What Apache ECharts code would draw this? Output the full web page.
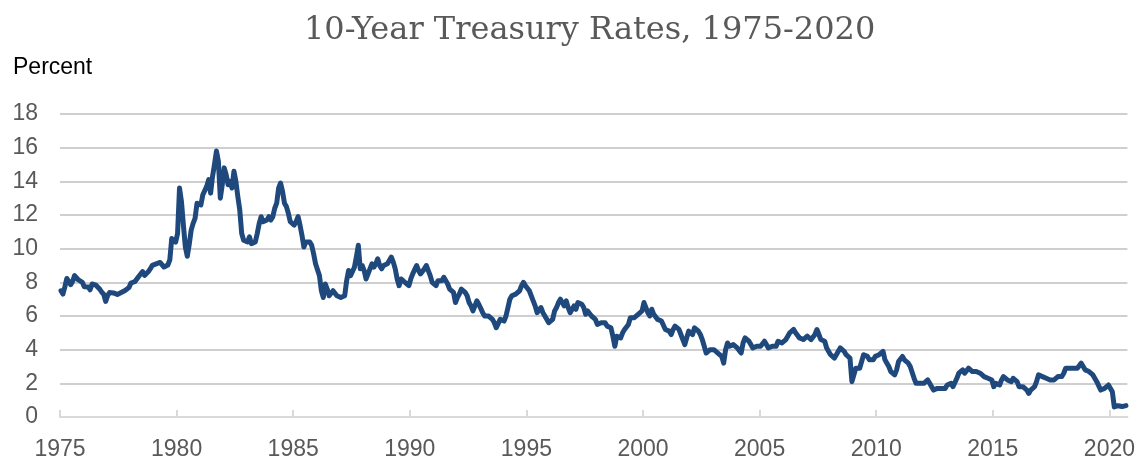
<!DOCTYPE html>
<html>
<head>
<meta charset="utf-8">
<script src="https://cdn.jsdelivr.net/npm/echarts@6/dist/echarts.min.js"></script>
<style>html,body{margin:0;padding:0;background:#fff}#c{width:1138px;height:461px}</style>
</head>
<body>
<div id="c"></div>
<script>
// Monthly 10-year Treasury rates (percent)
const rates1975 = [
  7.50, 7.30, 7.73, 8.23, 8.06, 7.86, 8.06, 8.40, 8.50, 8.14, 8.05, 8.00,
  7.74, 7.79, 7.73, 7.56, 7.90, 7.86, 7.83, 7.77, 7.59, 7.41, 7.29, 6.87,
  7.21, 7.39, 7.46, 7.37, 7.46, 7.28, 7.33, 7.40, 7.34, 7.52, 7.58, 7.69,
  7.96, 8.03, 8.04, 8.15, 8.35, 8.46, 8.64, 8.41, 8.42, 8.64, 8.81, 9.01,
  9.10, 9.10, 9.12, 9.18, 9.25, 8.91, 8.95, 9.03, 9.33, 10.60, 10.65, 10.39
];
const rates1980 = [
  10.9, 13.6, 12.8, 11.4, 10.1, 9.55, 10.25, 11.1, 11.5, 11.8, 12.7, 12.8,
  12.6, 13.2, 13.1, 13.7, 14.1, 13.3, 14.3, 15.0, 15.8, 15.2, 13.0, 13.8,
  14.8, 14.4, 13.8, 14.0, 13.6, 14.6, 14.0, 13.1, 12.3, 10.9, 10.5, 10.5,
  10.4, 10.7, 10.3, 10.2, 10.4, 10.9, 11.5, 11.9, 11.6, 11.6, 11.7, 11.9,
  11.7, 11.9, 12.4, 12.7, 13.6, 13.9, 13.4, 12.7, 12.5, 12.1, 11.6, 11.5,
  11.4, 11.6, 11.9, 11.4, 10.8, 10.1, 10.4, 10.3, 10.4, 10.2, 9.7, 9.1,
  9.2, 8.4, 7.5, 7.1, 7.9, 7.6, 7.2, 7.1, 7.5, 7.4, 7.2, 7.1,
  7.1, 7.2, 7.2, 8.1, 8.7, 8.4, 8.5, 8.9, 9.5, 10.2, 8.8, 9.0,
  8.7, 8.2, 8.5, 8.8, 9.1, 8.9, 9.1, 9.4, 9.0, 8.8, 9.0, 9.1,
  9.1, 9.2, 9.5, 9.2, 8.8, 8.2, 7.8, 8.2, 8.2, 8.0, 7.9, 7.8
];
const rates1990 = [
  8.2, 8.5, 8.6, 9.0, 8.7, 8.5, 8.5, 8.8, 9.0, 8.7, 8.4, 8.0,
  8.1, 7.8, 8.1, 8.0, 8.1, 8.3, 8.2, 7.9, 7.6, 7.5, 7.4, 6.8,
  7.1, 7.3, 7.6, 7.5, 7.4, 7.2, 6.8, 6.6, 6.3, 6.6, 6.9, 6.7,
  6.6, 6.2, 6.0, 6.0, 6.0, 5.9, 5.8, 5.6, 5.3, 5.2, 5.8, 5.8,
  5.7, 6.0, 6.5, 7.0, 7.2, 7.1, 7.3, 7.2, 7.5, 7.8, 8.0, 7.8,
  7.8, 7.5, 7.2, 7.1, 6.6, 6.2, 6.3, 6.5, 6.2, 6.0, 5.9, 5.6,
  5.6, 5.8, 6.3, 6.5, 6.8, 7.0, 6.9, 6.6, 6.9, 6.5, 6.2, 6.3,
  6.6, 6.4, 6.8, 6.9, 6.7, 6.5, 6.1, 6.3, 6.2, 6.0, 5.9, 5.8,
  5.5, 5.6, 5.6, 5.7, 5.6, 5.4, 5.5, 5.3, 4.8, 4.2, 4.8, 4.7,
  4.7, 5.0, 5.2, 5.2, 5.5, 5.9, 5.8, 5.9, 5.9, 6.1, 6.0, 6.3
];
const rates2000 = [
  6.8, 6.5, 6.2, 6.0, 6.4, 6.1, 6.0, 5.8, 5.8, 5.7, 5.6, 5.2,
  5.2, 5.1, 4.9, 5.2, 5.4, 5.3, 5.2, 4.9, 4.6, 4.3, 4.7, 5.1,
  5.0, 4.9, 5.3, 5.2, 5.1, 4.9, 4.6, 4.2, 3.8, 3.9, 4.0, 4.0,
  4.0, 3.9, 3.8, 3.9, 3.6, 3.2, 4.0, 4.4, 4.2, 4.3, 4.3, 4.2,
  4.1, 4.0, 3.8, 4.4, 4.7, 4.7, 4.5, 4.3, 4.1, 4.1, 4.2, 4.2,
  4.2, 4.2, 4.5, 4.3, 4.1, 4.0, 4.2, 4.2, 4.2, 4.5, 4.5, 4.4,
  4.4, 4.6, 4.8, 5.0, 5.1, 5.2, 5.0, 4.9, 4.7, 4.7, 4.6, 4.6,
  4.8, 4.7, 4.6, 4.7, 4.9, 5.2, 4.9, 4.6, 4.5, 4.5, 4.1, 4.1,
  3.7, 3.7, 3.5, 3.7, 3.9, 4.1, 4.0, 3.9, 3.7, 3.8, 3.5, 2.1,
  2.5, 2.9, 2.8, 2.9, 3.3, 3.7, 3.6, 3.6, 3.4, 3.4, 3.4, 3.6
];
const rates2010 = [
  3.7, 3.7, 3.7, 3.9, 3.4, 3.2, 3.0, 2.7, 2.6, 2.5, 2.8, 3.3,
  3.4, 3.6, 3.4, 3.5, 3.2, 3.0, 3.0, 2.3, 2.0, 2.1, 2.0, 2.0,
  2.0, 2.0, 2.2, 2.0, 1.8, 1.6, 1.5, 1.7, 1.7, 1.7, 1.7, 1.7,
  1.9, 2.0, 2.0, 1.8, 1.9, 2.3, 2.6, 2.7, 2.8, 2.6, 2.7, 2.9,
  2.8, 2.7, 2.7, 2.7, 2.6, 2.6, 2.5, 2.4, 2.5, 2.3, 2.3, 2.2,
  1.8, 2.0, 2.0, 1.9, 2.2, 2.4, 2.3, 2.2, 2.2, 2.1, 2.3, 2.2,
  2.1, 1.8, 1.9, 1.8, 1.8, 1.6, 1.4, 1.6, 1.6, 1.8, 2.1, 2.5,
  2.4, 2.4, 2.5, 2.3, 2.3, 2.2, 2.3, 2.2, 2.2, 2.4, 2.4, 2.4,
  2.6, 2.9, 2.8, 2.9, 3.0, 2.9, 2.9, 2.9, 3.0, 3.2, 3.1, 2.8,
  2.7, 2.7, 2.6, 2.5, 2.4, 2.1, 2.1, 1.6, 1.7, 1.7, 1.8, 1.9
];
const rates2020 = [1.8, 1.5, 0.6, 0.66, 0.67, 0.73, 0.62, 0.65, 0.68];

const yearTicks = [1975, 1980, 1985, 1990, 1995, 2000, 2005, 2010, 2015, 2020];
const titleText = '10-Year Treasury Rates, 1975-2020';
const yAxisTitle = 'Percent';

function toPoints(startYear, arr) {
  return arr.map((v, i) => [startYear + (i + 0.5) / 12, v]);
}
const seriesData = [].concat(
  toPoints(1975, rates1975),
  toPoints(1980, rates1980),
  toPoints(1990, rates1990),
  toPoints(2000, rates2000),
  toPoints(2010, rates2010),
  toPoints(2020, rates2020)
);

const chart = echarts.init(document.getElementById('c'), null, {renderer: 'canvas'});
const splitColors = ['#d9d9d9'].concat(new Array(9).fill('#bfbfbf'));
chart.setOption({
  animation: false,
  backgroundColor: '#fff',
  title: [
    {text: titleText, left: 299, top: 10,
     textStyle: {fontFamily: 'DejaVu Serif', fontSize: 32, fontWeight: 'normal', color: '#595959'}},
    {text: yAxisTitle, left: 8, top: 51,
     textStyle: {fontFamily: 'Liberation Sans', fontSize: 23, fontWeight: 'normal', color: '#000'}}
  ],
  grid: {left: 60, right: 10, top: 114, bottom: 39, containLabel: false},
  xAxis: {
    type: 'value', min: 1975, max: 2020.77, interval: 5,
    axisLine: {show: true, lineStyle: {color: '#d9d9d9', width: 2}},
    axisTick: {show: true, inside: true, length: 7, lineStyle: {color: '#d9d9d9', width: 2}, customValues: yearTicks},
    axisLabel: {color: '#595959', fontFamily: 'Liberation Sans', fontSize: 23, margin: 21, customValues: yearTicks,
      formatter: v => String(Math.round(v))},
    splitLine: {show: false}
  },
  yAxis: {
    type: 'value', min: 0, max: 18, interval: 2,
    axisLine: {show: false}, axisTick: {show: false},
    axisLabel: {color: '#595959', fontFamily: 'Liberation Sans', fontSize: 23, margin: 22},
    splitLine: {show: true, lineStyle: {color: splitColors, width: 1.5}}
  },
  series: [{
    type: 'line', data: seriesData, showSymbol: false, symbol: 'none',
    lineStyle: {color: '#1f497d', width: 5, join: 'round', cap: 'round'},
    z: 5
  }]
});
</script>
</body>
</html>
